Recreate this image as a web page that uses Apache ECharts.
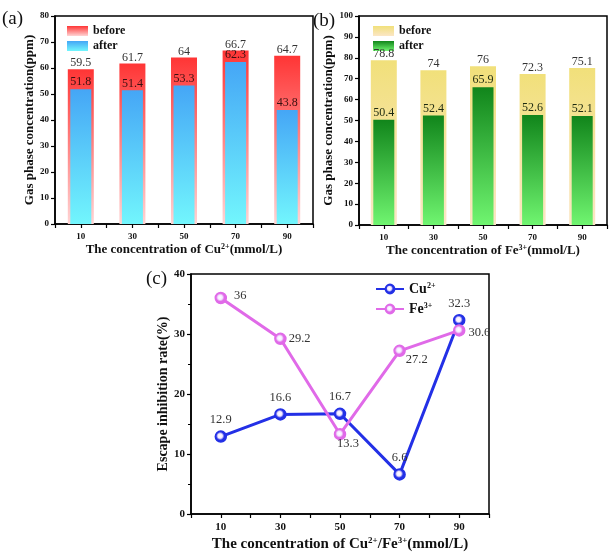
<!DOCTYPE html>
<html><head><meta charset="utf-8">
<script src="https://cdn.jsdelivr.net/npm/echarts@6/dist/echarts.min.js"></script>
<style>html,body{margin:0;padding:0;background:#fff}#c{width:610px;height:556px}</style>
</head><body><div id="c"></div><script>
// ---- data ----
const concentrations = [10, 30, 50, 70, 90];
const xTickLabels = ['10', '30', '50', '70', '90'];
const cuBefore = [59.5, 61.7, 64, 66.7, 64.7];
const cuAfter = [51.8, 51.4, 53.3, 62.3, 43.8];
const feBefore = [78.8, 74, 76, 72.3, 75.1];
const feAfter = [50.4, 52.4, 65.9, 52.6, 52.1];
const cuRate = [12.9, 16.6, 16.7, 6.6, 32.3];
const feRate = [36, 29.2, 13.3, 27.2, 30.6];

// ---- styles (not data) ----
const serif = '"Liberation Serif","Times New Roman",serif';
const feLabelStyle = [
  {position: 'right', distance: 7, offset: [0, -2]},
  {position: 'right', distance: 2, offset: [0, 0]},
  {position: 'bottom', distance: 0, offset: [8, -3]},
  {position: 'right', distance: 2, offset: [-2, 9]},
  {position: 'right', distance: 3, offset: [0, 2]}
];

const pts = ys => concentrations.map((x, i) => [x, ys[i]]);
const grad = (top, bottom) => ({type: 'linear', x: 0, y: 0, x2: 0, y2: 1,
  colorStops: [{offset: 0, color: top}, {offset: 1, color: bottom}]});
const radial = (c) => ({type: 'radial', x: 0.45, y: 0.45, r: 0.6,
  colorStops: [{offset: 0, color: '#ffffff'}, {offset: 0.3, color: '#f4eaff'}, {offset: 0.55, color: c}, {offset: 1, color: c}]});

const tickFmt = v => xTickLabels.includes(String(v)) ? String(v) : '';
const axisLineStyle = {lineStyle: {color: '#000', width: 1.5}};
const richTitle = (size) => ({
  t: {fontFamily: serif, fontWeight: 'bold', fontSize: size, color: '#111'},
  s: {fontFamily: serif, fontWeight: 'bold', fontSize: Math.round(size * 0.6), color: '#111', verticalAlign: 'top', padding: [0, 0, Math.round(size * 0.45), 0]}
});

function xAxis(grid, show, name, size, gap) {
  return {
    type: 'value', gridIndex: grid, min: 0, max: 100, interval: 10, show: show,
    axisLine: Object.assign({onZero: false}, axisLineStyle),
    axisTick: {length: 4, lineStyle: {color: '#000', width: 1.2}},
    axisLabel: {formatter: tickFmt, fontFamily: serif, fontWeight: 'bold', fontSize: size === 15 ? 11 : 9, color: '#111', margin: 8},
    splitLine: {show: false},
    name: name, nameLocation: 'middle', nameGap: gap,
    nameTextStyle: {rich: richTitle(size)}
  };
}
function yAxis(grid, max, name, size, gap, minor) {
  return {
    type: 'value', gridIndex: grid, min: 0, max: max, interval: 10,
    axisLine: Object.assign({show: true, onZero: false}, axisLineStyle),
    axisTick: {show: true, length: 4, lineStyle: {color: '#000', width: 1.2}},
    minorTick: {show: minor, splitNumber: 2, length: 3, lineStyle: {color: '#000', width: 1}},
    axisLabel: {fontFamily: serif, fontWeight: 'bold', fontSize: size === 14 ? 11 : 9, color: '#111', margin: 6},
    splitLine: {show: false},
    name: name, nameLocation: 'middle', nameGap: gap,
    nameTextStyle: {fontFamily: serif, fontWeight: 'bold', fontSize: size, color: '#111'}
  };
}

const barLabel = {show: true, position: 'top', distance: 0, fontFamily: serif, fontSize: 12, color: '#333',
  formatter: p => String(p.value[1])};
const legText = {fontFamily: serif, fontWeight: 'bold', fontSize: 12, color: '#111', lineHeight: 12};
const lineLabelFont = {fontFamily: serif, fontSize: 12.5, color: '#333'};

const chart = echarts.init(document.getElementById('c'), null, {renderer: 'canvas'});
chart.setOption({
  animation: false,
  backgroundColor: '#fff',
  grid: [
    {left: 55, top: 16, width: 258, height: 208, show: true, borderColor: '#000', borderWidth: 1.5},
    {left: 359, top: 16, width: 259, height: 209, show: true, borderColor: '#000', borderWidth: 1.5},
    {left: 191, top: 274, width: 298, height: 240, show: true, borderColor: '#000', borderWidth: 1.5}
  ],
  xAxis: [
    xAxis(0, true, '{t|The concentration of Cu}{s|2+}{t|(mmol/L)}', 13, 19),
    xAxis(0, false, '', 13, 19),
    xAxis(1, true, '{t|The concentration of Fe}{s|3+}{t|(mmol/L)}', 13, 19),
    xAxis(1, false, '', 13, 19),
    xAxis(2, true, '{t|The concentration of Cu}{s|2+}{t|/Fe}{s|3+}{t|(mmol/L)}', 15, 22)
  ],
  yAxis: [
    yAxis(0, 80, 'Gas phase concentration(ppm)', 13, 14, false),
    yAxis(1, 100, 'Gas phase concentration(ppm)', 13, 16, false),
    yAxis(2, 40, 'Escape inhibition rate(%)', 14, 19, true)
  ],
  legend: [
    {data: ['before|a', 'after|a'], orient: 'vertical', left: 67, top: 25, padding: 0, icon: 'rect', z: 1,
      itemWidth: 21, itemHeight: 10, itemGap: 3,
      formatter: n => n.split('|')[0], textStyle: legText},
    {data: ['before|b', 'after|b'], orient: 'vertical', left: 373, top: 25, padding: 0, icon: 'rect', z: 1,
      itemWidth: 21, itemHeight: 10, itemGap: 3,
      formatter: n => n.split('|')[0], textStyle: legText},
    {data: ['Cu2+', 'Fe3+'], orient: 'vertical', left: 375, top: 282, padding: 0,
      itemWidth: 28, itemHeight: 11, itemGap: 6,
      formatter: n => n === 'Cu2+' ? '{t|Cu}{s|2+}' : '{t|Fe}{s|3+}',
      textStyle: {rich: richTitle(14)}}
  ],
  graphic: [
    {type: 'text', left: 2, top: 10, style: {text: '(a)', fontFamily: serif, fontSize: 19, fill: '#111'}},
    {type: 'text', left: 313, top: 12, style: {text: '(b)', fontFamily: serif, fontSize: 19, fill: '#111'}},
    {type: 'text', left: 146, top: 270, style: {text: '(c)', fontFamily: serif, fontSize: 19, fill: '#111'}}
  ],
  series: [
    {name: 'before|a', type: 'bar', xAxisIndex: 0, yAxisIndex: 0, barWidth: 26, data: pts(cuBefore),
      itemStyle: {color: grad('#ff3535', '#ffd4d4')}, label: barLabel},
    {name: 'after|a', type: 'bar', xAxisIndex: 1, yAxisIndex: 0, barWidth: 21, data: pts(cuAfter),
      itemStyle: {color: grad('#45a6f6', '#72f6fd')}, label: Object.assign({}, barLabel, {color: '#3a1010', distance: 1})},
    {name: 'before|b', type: 'bar', xAxisIndex: 2, yAxisIndex: 1, barWidth: 26, data: pts(feBefore),
      itemStyle: {color: grad('#f1e07a', '#fbe6c6')}, label: barLabel},
    {name: 'after|b', type: 'bar', xAxisIndex: 3, yAxisIndex: 1, barWidth: 21, data: pts(feAfter),
      itemStyle: {color: grad('#11851b', '#70f570')}, label: Object.assign({}, barLabel, {color: '#1d2a10', distance: 1})},
    {name: 'Cu2+', type: 'line', xAxisIndex: 4, yAxisIndex: 2, data: pts(cuRate),
      symbol: 'circle', symbolSize: 11, lineStyle: {color: '#2330e6', width: 3},
      itemStyle: {color: radial('#2330e6'), borderColor: '#2330e6', borderWidth: 1.5},
      label: Object.assign({show: true, position: 'top', distance: 4, formatter: p => String(p.value[1])}, lineLabelFont)},
    {name: 'Fe3+', type: 'line', xAxisIndex: 4, yAxisIndex: 2,
      data: pts(feRate).map((v, i) => ({value: v, label: feLabelStyle[i]})),
      symbol: 'circle', symbolSize: 11, lineStyle: {color: '#e06ae8', width: 3},
      itemStyle: {color: radial('#e06ae8'), borderColor: '#e06ae8', borderWidth: 1.5},
      label: Object.assign({show: true, formatter: p => String(p.value[1])}, lineLabelFont)}
  ]
});
</script></body></html>
